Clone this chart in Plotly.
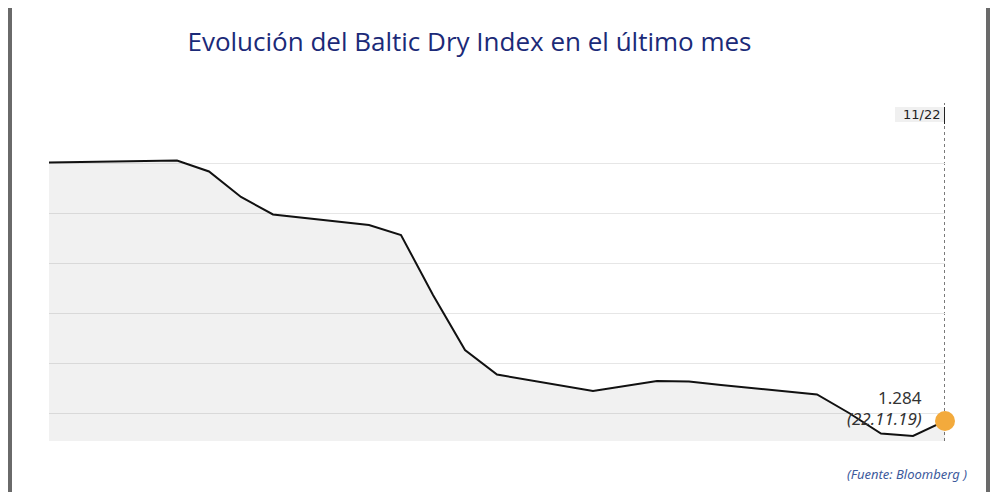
import plotly.graph_objects as go

dates = ["2019-10-25", "2019-10-28", "2019-10-29", "2019-10-30", "2019-10-31",
         "2019-11-01", "2019-11-04", "2019-11-05", "2019-11-06", "2019-11-07",
         "2019-11-08", "2019-11-11", "2019-11-12", "2019-11-13", "2019-11-14",
         "2019-11-15", "2019-11-18", "2019-11-19", "2019-11-20", "2019-11-21",
         "2019-11-22"]
bdi = [1801, 1804, 1805, 1783, 1732,
       1697, 1676, 1656, 1536, 1426,
       1377, 1344, 1354, 1364, 1363,
       1356, 1337, 1300, 1259, 1254,
       1284]
grid_vals = [1300, 1400, 1500, 1600, 1700, 1800]
last_label = "1.284"
last_date_label = "(22.11.19)"
cursor_label = "11/22"
title_text = "Evolución del Baltic Dry Index en el último mes"
source_text = "(Fuente: Bloomberg )"

# page has an 8px body margin; figure placed at (8, 8)
OFF = 8
W, H = 984, 484
L, T = 49 - OFF, 103 - OFF
R = W - (945 - OFF)
B = H - (441 - OFF)
PW = W - L - R
PH = H - T - B


def px_x(p):
    return (p - OFF - L) / PW


def px_y(p):
    return (T + PH - (p - OFF)) / PH


fig = go.Figure()
fig.add_trace(go.Scatter(
    x=dates, y=bdi, mode="lines",
    line=dict(color="#111111", width=2),
    fill="tozeroy", fillcolor="rgba(0,0,0,0.055)",
    hoverinfo="skip", showlegend=False))
fig.add_trace(go.Scatter(
    x=[dates[-1]], y=[bdi[-1]], mode="markers",
    marker=dict(color="#F3AA3C", size=20, line=dict(width=0)),
    cliponaxis=False, hoverinfo="skip", showlegend=False))

shapes = [
    dict(type="line", xref="x", yref="paper", x0=dates[-1], x1=dates[-1],
         y0=0, y1=1, line=dict(color="#222222", width=1.2, dash="dot"), layer="below"),
    dict(type="rect", xref="paper", yref="paper", x0=px_x(895), x1=px_x(944),
         y0=px_y(122), y1=px_y(107), fillcolor="#f0f0f0", line=dict(width=0)),
    dict(type="line", xref="x", yref="paper", x0=dates[-1], x1=dates[-1],
         y0=px_y(124), y1=px_y(107), line=dict(color="#222222", width=2), layer="above"),
    dict(type="rect", xref="paper", yref="paper", x0=px_x(8), x1=px_x(12),
         y0=px_y(500), y1=px_y(0), fillcolor="#6a6a6a", line=dict(width=0)),
    dict(type="rect", xref="paper", yref="paper", x0=px_x(986), x1=px_x(990),
         y0=px_y(500), y1=px_y(0), fillcolor="#6a6a6a", line=dict(width=0)),
]

annotations = [
    dict(text=cursor_label, xref="paper", yref="paper", x=px_x(942), y=px_y(115),
         xanchor="right", yanchor="middle", showarrow=False,
         font=dict(family="DejaVu Sans", size=13, color="#222222")),
    dict(text=last_label, xref="paper", yref="paper", x=px_x(924), y=px_y(397),
         xanchor="right", yanchor="middle", showarrow=False,
         font=dict(family="Noto Sans", size=17, color="#333333")),
    dict(text="<i>" + last_date_label + "</i>", xref="paper", yref="paper", x=px_x(924), y=px_y(418),
         xanchor="right", yanchor="middle", showarrow=False,
         font=dict(family="Noto Sans", size=17, color="#333333")),
    dict(text="<i>" + source_text + "</i>", xref="paper", yref="paper", x=px_x(969), y=px_y(474),
         xanchor="right", yanchor="middle", showarrow=False,
         font=dict(family="Noto Sans", size=13, color="#3d5a9c")),
]

fig.update_layout(
    width=W, height=H,
    margin=dict(l=L, r=R, t=T, b=B),
    paper_bgcolor="white", plot_bgcolor="white",
    title=dict(text=title_text, x=(469.5 - OFF) / W, xref="container", xanchor="center",
               y=1 - (42 - OFF) / H, yref="container", yanchor="middle",
               font=dict(family="Open Sans", size=26, color="#1b2a78")),
    xaxis=dict(type="date", range=[dates[0], dates[-1]], showgrid=False,
               showticklabels=False, zeroline=False, showline=False, ticks=""),
    yaxis=dict(range=[1244, 1920], tickvals=grid_vals, showticklabels=False,
               gridcolor="#e6e6e6", gridwidth=1, zeroline=False, showline=False, ticks=""),
    shapes=shapes, annotations=annotations,
)

fig.write_html("out.html")
